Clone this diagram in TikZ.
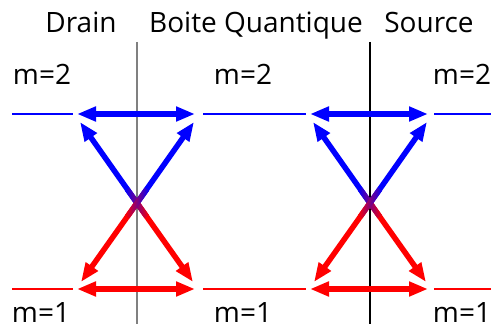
\documentclass[tikz,border=0pt]{standalone}
\usepackage{fontspec}
\setmainfont{Open Sans}
\usetikzlibrary{arrows.meta}
\definecolor{upper}{RGB}{0,0,255}
\definecolor{lower}{RGB}{255,0,0}
\definecolor{wall}{RGB}{128,128,128}

\begin{document}
\begin{tikzpicture}[x=1pt, y=-1pt,
    rung/.style={line width=1.2pt},
    barrier/.style={line width=1.5pt},
    jump/.style={line width=5.5pt, -{Triangle[length=19pt,width=14pt]}},
    both/.style={line width=5.5pt, {Triangle[length=19pt,width=14pt]}-{Triangle[length=19pt,width=14pt]}},
    blend/.style={rectangle, inner sep=0pt, minimum width=34pt, minimum height=5.5pt},
    label/.style={font=\fontsize{28}{32}\selectfont, anchor=base, inner sep=0pt}
]
    \useasboundingbox (0,0) rectangle (491,329);

    % Titles
    \node[label] (drain) at (81,33) {Drain};
    \node[label] (boite) at (256,33) {Boite Quantique};
    \node[label] (source) at (429,33) {Source};

    % Level names
    \node[label] (mdrainup) at (42,85) {m=2};
    \node[label] (mboiteup) at (243,85) {m=2};
    \node[label] (msourceup) at (462,85) {m=2};
    \node[label] (mdrainlo) at (41,322) {m=1};
    \node[label] (mboitelo) at (243,322) {m=1};
    \node[label] (msourcelo) at (462,322) {m=1};

    % Barriers
    \coordinate (bdtop) at (137,42);
    \coordinate (bdbot) at (137,324);
    \coordinate (bstop) at (370,42);
    \coordinate (bsbot) at (370,324);
    \draw[barrier, wall] (bdtop) -- (bdbot);
    \draw[barrier, black] (bstop) -- (bsbot);

    % Levels
    \coordinate (ud1) at (12,114);  \coordinate (ud2) at (73,114);
    \coordinate (ub1) at (203,114); \coordinate (ub2) at (306,114);
    \coordinate (us1) at (434,114); \coordinate (us2) at (491,114);
    \coordinate (ld1) at (12,289);  \coordinate (ld2) at (73,289);
    \coordinate (lb1) at (203,289); \coordinate (lb2) at (306,289);
    \coordinate (ls1) at (434,289); \coordinate (ls2) at (491,289);
    \draw[rung, draw=upper] (ud1) -- (ud2);
    \draw[rung, draw=upper] (ub1) -- (ub2);
    \draw[rung, draw=upper] (us1) -- (us2);
    \draw[rung, draw=lower] (ld1) -- (ld2);
    \draw[rung, draw=lower] (lb1) -- (lb2);
    \draw[rung, draw=lower] (ls1) -- (ls2);

    % Drain side
    \coordinate (xd) at (137,203);
    \coordinate (dul) at (80,122);  \coordinate (dur) at (194,122);
    \coordinate (dll) at (81,282);  \coordinate (dlr) at (193,282);
    \coordinate (dhl) at (77,114);  \coordinate (dhr) at (195,114);
    \coordinate (dkl) at (77,289);  \coordinate (dkr) at (195,289);
    \draw[jump, upper] (xd) -- (dul);
    \draw[jump, upper] (xd) -- (dur);
    \draw[jump, lower] (xd) -- (dll);
    \draw[jump, lower] (xd) -- (dlr);
    \node[blend, rotate=-54.5, left color=upper, right color=lower] (xdone) at (xd) {};
    \node[blend, rotate=54.5, left color=lower, right color=upper] (xdtwo) at (xd) {};
    \draw[both, upper] (dhl) -- (dhr);
    \draw[both, lower] (dkl) -- (dkr);

    % Source side
    \coordinate (xs) at (370,203);
    \coordinate (sul) at (313,122); \coordinate (sur) at (427,122);
    \coordinate (sll) at (314,282); \coordinate (slr) at (426,282);
    \coordinate (shl) at (310,114); \coordinate (shr) at (428,114);
    \coordinate (skl) at (310,289); \coordinate (skr) at (428,289);
    \draw[jump, upper] (xs) -- (sul);
    \draw[jump, upper] (xs) -- (sur);
    \draw[jump, lower] (xs) -- (sll);
    \draw[jump, lower] (xs) -- (slr);
    \node[blend, rotate=-54.5, left color=upper, right color=lower] (xsone) at (xs) {};
    \node[blend, rotate=54.5, left color=lower, right color=upper] (xstwo) at (xs) {};
    \draw[both, upper] (shl) -- (shr);
    \draw[both, lower] (skl) -- (skr);
\end{tikzpicture}
\end{document}
